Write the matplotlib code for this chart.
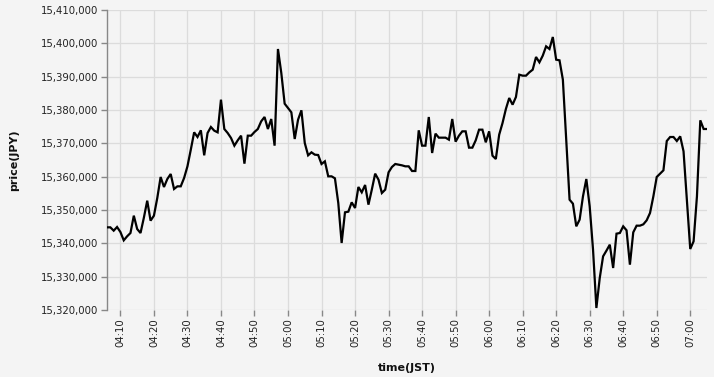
import pandas as pd
import matplotlib
matplotlib.use("Agg")
import matplotlib.pyplot as plt
import matplotlib.dates as mdates
from matplotlib.ticker import FuncFormatter

# one value per minute, 04:06 -> 07:05 (JST)
start_time = "2022-01-01 04:06"
price = [
    15344800, 15344800, 15343800, 15344900, 15343400, 15340900, 15342100, 15343100,
    15348300, 15344300, 15343100, 15347700, 15352800, 15346800, 15348300, 15353600,
    15359900, 15356900, 15359300, 15360800, 15356300, 15357100, 15357100, 15359600,
    15363100, 15368100, 15373300, 15371900, 15373900, 15366400, 15373100, 15374900,
    # 04:38
    15373800, 15373300, 15383100, 15374300, 15373100, 15371600, 15369300, 15370900,
    15372300, 15363900, 15372300, 15372300, 15373400, 15374300, 15376600, 15377900,
    15374300, 15377300, 15369300, 15398300, 15391100, 15381900, 15380600, 15379300,
    15371300, 15377100, 15379900, 15370100, 15366400,
    # 05:07
    15367300, 15366600, 15366500, 15363800, 15364600, 15360100, 15360100, 15359500,
    15352100, 15340100, 15349300, 15349500, 15352300, 15350600, 15356900, 15355300,
    15357500, 15351600, 15356100, 15360900, 15359100, 15355100, 15356100, 15361300,
    15362900, 15363800, 15363600, 15363400, 15363100, 15363100,
    # 05:37
    15361700, 15361700, 15373900, 15369300, 15369300, 15377900, 15367100, 15372900,
    15371700, 15371700, 15371700, 15371100, 15377300, 15370500, 15372300, 15373600,
    15373600, 15368700, 15368700, 15370900, 15374100, 15374100, 15370300, 15373600,
    15366300, 15365300, 15372600, 15376100, 15380300, 15383600,
    # 06:07
    15381600, 15383900, 15390600, 15390300, 15390300, 15391300, 15392100, 15395900,
    15394300, 15396300, 15399100, 15398300, 15401900, 15395100, 15394900, 15389100,
    15371100, 15353100, 15351900, 15345100, 15347100, 15354100, 15359300, 15351100,
    15338100, 15320600, 15329600, 15336100, 15337800, 15339600,
    # 06:37
    15332600, 15342900, 15343100, 15345100, 15343900, 15333600, 15343300, 15345300,
    15345300, 15345700, 15346900, 15349100, 15354100, 15359900, 15360900, 15361900,
    15370700, 15371900, 15371900, 15370700, 15372100, 15367600, 15353100, 15338300,
    15340600, 15354100, 15376900, 15374300, 15374300,
]
y_ticks = list(range(15320000, 15410001, 10000))

times = pd.date_range(start_time, periods=len(price), freq="1min")

bg = "#f4f4f4"
fig = plt.figure(figsize=(7.14, 3.77), dpi=100, facecolor=bg)
ax = fig.add_axes([107 / 714, 67 / 377, 600 / 714, 300 / 377], facecolor=bg)

ax.plot(times, price, color="black", lw=1.6, solid_joinstyle="miter", zorder=3)

ax.set_xlim(times[0], times[-1])
ax.set_ylim(y_ticks[0], y_ticks[-1])
ax.set_yticks(y_ticks)
ax.yaxis.set_major_formatter(FuncFormatter(lambda v, p: f"{int(v):,}"))
ax.xaxis.set_major_locator(mdates.MinuteLocator(byminute=range(0, 60, 10)))
ax.xaxis.set_major_formatter(mdates.DateFormatter("%H:%M"))

ax.grid(True, color="#dcdcdc", lw=0.9)
ax.set_axisbelow(True)
for s in ["top", "right", "bottom"]:
    ax.spines[s].set_visible(False)
ax.spines["left"].set_color("#888888")
ax.spines["left"].set_linewidth(1)

ax.tick_params(axis="both", colors="#888888", length=4, width=1, labelsize=7.3,
               labelcolor="#222222", pad=2)
plt.setp(ax.get_xticklabels(), rotation=90)

ax.set_xlabel("time(JST)", fontsize=8, fontweight="bold", color="#111111", labelpad=11)
ax.set_ylabel("price(JPY)", fontsize=8, fontweight="bold", color="#111111", labelpad=16)

fig.savefig("out.png", dpi=100, facecolor=bg)
